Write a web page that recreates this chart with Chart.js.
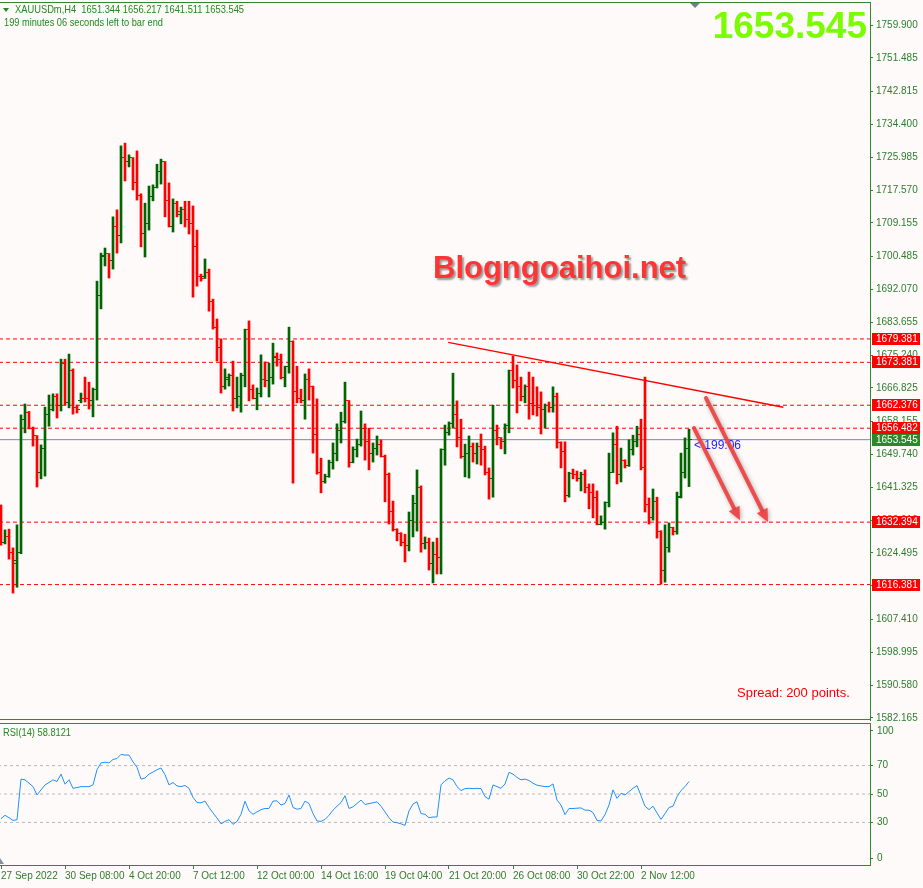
<!DOCTYPE html>
<html>
<head>
<meta charset="utf-8">
<script src="https://cdn.jsdelivr.net/npm/chart.js@4.4.0/dist/chart.umd.min.js"></script>
<style>
html, body { margin: 0; padding: 0; background: #fffafa; }
#wrap { position: relative; width: 923px; height: 888px; overflow: hidden; background: #fffafa; }
#main { position: absolute; left: 0; top: 0; }
#rsi { position: absolute; left: 0; top: 722px; }
</style>
</head>
<body>
<div id="wrap">
  <canvas id="main" width="923" height="722"></canvas>
  <canvas id="rsi" width="923" height="166"></canvas>
</div>
<script>
// XAUUSDm H4 bars (bar 0 = 27 Sep 2022)
const opens = [
  1636.0,1627.3,1628.8,1624.7,1622.5,1624.5,1658.8,1660.6,1656.5,1654.5,
  1645.0,1651.4,1659.9,1661.2,1664.5,1662.2,1673.2,1663.2,1671.4,1661.9,
  1663.5,1664.2,1664.0,1663.7,1666.3,1690.4,1700.6,1701.2,1699.6,1708.1,
  1705.8,1725.8,1724.8,1725.8,1719.4,1716.3,1706.3,1709.1,1716.0,1718.3,
  1722.2,1724.8,1715.0,1708.3,1714.2,1711.2,1712.5,1710.1,1709.1,1703.0,
  1695.5,1695.3,1696.5,1688.9,1682.4,1677.1,1667.1,1669.1,1670.1,1664.2,
  1664.7,1670.1,1681.7,1666.5,1664.0,1665.5,1669.1,1668.6,1669.6,1675.0,
  1674.0,1669.6,1672.2,1678.8,1665.8,1664.0,1663.5,1669.1,1667.1,1655.0,
  1645.0,1642.9,1644.0,1647.6,1650.1,1656.0,1658.1,1663.5,1647.8,1650.9,
  1652.4,1656.5,1653.0,1649.9,1651.4,1652.4,1649.3,1644.7,1635.2,1630.6,
  1629.6,1627.3,1626.3,1632.9,1637.3,1641.4,1627.0,1627.3,1621.7,1624.0,
  1623.2,1650.9,1655.3,1657.8,1660.1,1654.0,1649.3,1650.1,1651.9,1650.1,
  1651.7,1650.9,1645.2,1643.7,1656.0,1654.0,1653.0,1657.1,1671.2,1668.6,
  1667.3,1664.5,1667.3,1662.7,1662.4,1661.9,1661.2,1662.2,1661.9,1664.7,
  1652.7,1650.4,1639.3,1644.9,1644.7,1643.5,1644.5,1641.2,1640.1,1638.8,
  1631.9,1632.4,1637.5,1645.2,1652.2,1644.5,1648.3,1646.8,1650.9,1653.0,
  1655.0,1646.5,1636.8,1633.7,1637.8,1630.1,1619.9,1626.0,1630.9,1629.9,
  1639.1,1645.0,1651.344
];
const highs = [
  1636.8,1630.4,1630.6,1625.8,1631.7,1659.9,1662.7,1660.8,1656.8,1654.6,
  1652.2,1661.9,1665.0,1665.3,1665.3,1674.2,1674.2,1675.5,1671.7,1662.4,
  1665.5,1669.6,1668.3,1666.8,1694.2,1701.4,1702.7,1701.3,1710.7,1712.5,
  1728.9,1729.6,1726.6,1725.9,1727.6,1716.6,1714.2,1718.6,1718.9,1724.2,
  1725.5,1724.9,1719.4,1715.3,1714.7,1713.2,1714.7,1714.7,1713.5,1707.3,
  1696.0,1699.9,1697.3,1689.6,1684.5,1679.4,1671.7,1670.4,1673.7,1669.6,
  1670.6,1681.9,1684.0,1667.6,1666.8,1675.3,1673.5,1673.2,1678.3,1675.8,
  1675.5,1672.4,1682.4,1678.9,1672.4,1666.5,1670.4,1671.7,1667.3,1664.0,
  1648.8,1644.7,1648.3,1652.7,1657.6,1660.6,1668.3,1663.6,1651.7,1653.7,
  1660.9,1657.6,1656.5,1652.7,1654.5,1653.5,1649.6,1645.0,1637.8,1630.7,
  1629.7,1629.3,1635.0,1639.3,1645.8,1641.7,1628.6,1628.3,1627.3,1628.3,
  1651.2,1657.3,1658.1,1670.6,1663.5,1658.8,1652.4,1654.5,1652.7,1652.7,
  1655.0,1651.9,1646.3,1662.4,1657.3,1654.1,1657.6,1671.4,1675.0,1672.7,
  1669.6,1667.6,1670.9,1669.6,1667.1,1665.8,1662.7,1663.2,1667.1,1665.5,
  1653.0,1653.0,1645.2,1646.0,1645.5,1645.2,1645.8,1642.2,1642.2,1640.4,
  1634.0,1637.6,1650.1,1655.3,1657.0,1651.4,1648.4,1653.5,1654.7,1657.0,
  1658.8,1669.6,1638.6,1640.9,1638.8,1630.2,1631.7,1632.2,1631.1,1640.1,
  1650.1,1654.0,1656.217
];
const lows = [
  1626.5,1626.8,1622.9,1614.2,1615.7,1624.3,1655.3,1656.3,1651.9,1641.4,
  1643.5,1644.2,1657.0,1660.9,1659.1,1660.9,1662.4,1661.7,1660.1,1660.4,
  1663.0,1663.2,1661.4,1659.4,1663.7,1687.1,1698.1,1695.0,1697.3,1701.4,
  1704.0,1719.9,1723.5,1717.6,1715.0,1703.0,1700.4,1707.3,1714.8,1718.1,
  1719.1,1710.7,1708.1,1706.8,1710.7,1708.9,1708.1,1706.3,1690.1,1692.9,
  1694.2,1694.9,1686.5,1681.9,1673.7,1665.5,1666.5,1667.3,1660.9,1661.7,
  1660.6,1667.1,1663.5,1664.0,1661.2,1664.5,1667.1,1664.5,1667.8,1672.4,
  1669.1,1667.1,1670.6,1642.4,1663.0,1663.0,1658.8,1663.7,1650.1,1644.7,
  1639.9,1642.4,1643.9,1646.0,1648.1,1652.7,1657.8,1646.5,1647.6,1649.1,
  1651.9,1648.3,1645.8,1647.8,1649.6,1649.1,1637.6,1631.9,1630.1,1627.6,
  1626.3,1622.2,1625.0,1628.6,1630.1,1624.7,1625.5,1620.1,1616.8,1619.1,
  1619.1,1647.0,1654.7,1656.5,1651.7,1648.8,1644.0,1643.7,1647.8,1647.3,
  1647.0,1644.5,1638.3,1638.8,1652.2,1651.2,1649.9,1655.3,1666.8,1660.4,
  1663.5,1663.0,1658.8,1659.9,1659.6,1655.0,1656.5,1660.6,1660.6,1651.4,
  1646.3,1637.6,1638.8,1643.5,1642.9,1640.4,1639.9,1635.8,1633.5,1631.7,
  1631.7,1630.6,1636.3,1645.1,1642.2,1642.7,1646.3,1646.7,1649.6,1651.7,
  1645.8,1635.0,1631.9,1632.9,1628.3,1616.5,1617.0,1624.7,1629.1,1629.3,
  1638.6,1643.7,1641.511
];
const closes = [
  1627.3,1628.8,1624.7,1621.9,1624.5,1658.8,1660.6,1656.5,1654.5,1645.0,
  1651.4,1659.9,1661.2,1664.5,1662.2,1673.2,1663.2,1671.4,1661.9,1661.2,
  1664.2,1664.0,1663.7,1666.3,1690.4,1700.9,1701.2,1699.6,1708.1,1705.8,
  1725.8,1724.8,1725.8,1719.4,1716.3,1706.3,1709.1,1716.0,1718.3,1722.2,
  1724.8,1715.0,1708.3,1714.2,1712.0,1712.5,1710.1,1709.1,1703.0,1695.5,
  1694.8,1696.5,1688.9,1682.4,1677.1,1667.1,1669.4,1670.1,1664.2,1664.7,
  1670.1,1681.7,1666.5,1664.2,1665.5,1669.1,1668.6,1669.6,1674.7,1674.0,
  1669.6,1672.2,1678.8,1665.8,1664.0,1663.5,1669.1,1667.1,1655.0,1645.0,
  1642.9,1644.0,1647.6,1650.1,1656.0,1658.1,1663.5,1647.8,1650.9,1652.4,
  1656.5,1653.0,1649.9,1651.4,1652.4,1649.3,1644.7,1635.2,1630.6,1629.6,
  1627.3,1626.5,1632.9,1637.3,1641.4,1627.0,1627.3,1621.7,1624.0,1623.2,
  1650.9,1655.3,1657.8,1660.1,1654.0,1649.3,1650.1,1651.9,1650.1,1651.7,
  1650.9,1645.2,1643.7,1656.0,1654.0,1653.0,1657.1,1671.2,1668.6,1667.3,
  1664.7,1667.3,1662.7,1662.4,1661.9,1661.2,1662.2,1661.9,1664.7,1652.7,
  1650.4,1639.3,1644.9,1644.7,1643.5,1644.5,1641.2,1640.1,1638.8,1631.9,
  1632.4,1637.5,1645.2,1652.2,1644.5,1648.3,1646.8,1650.9,1653.0,1655.0,
  1646.5,1636.8,1633.7,1637.8,1630.1,1619.9,1626.0,1630.9,1629.9,1638.8,
  1645.2,1651.4,1653.545
];
// RSI(14) per bar
const rsiValues = [
  32.6,35.0,33.3,31.4,31.9,60.5,60.0,57.6,55.2,49.3,
  52.9,56.4,58.1,60.0,58.8,64.0,56.9,60.0,54.0,54.5,
  55.2,55.2,55.2,56.4,67.1,71.9,72.4,71.9,74.3,75.0,
  77.9,77.4,77.4,72.6,68.8,60.5,61.2,64.0,65.5,67.1,
  68.3,63.6,56.4,58.1,55.7,55.2,56.0,54.0,47.6,44.0,
  43.8,45.0,40.5,36.7,33.1,29.0,30.7,31.9,28.6,30.7,
  35.7,45.0,38.1,35.7,37.4,39.0,39.8,39.8,45.0,45.2,
  42.2,43.3,49.3,40.5,39.3,39.8,45.0,43.3,36.2,31.0,
  30.7,32.1,35.0,38.6,41.4,44.0,48.8,39.8,41.0,43.3,
  45.7,42.6,43.3,43.8,44.5,41.4,37.4,33.3,30.2,29.8,
  29.0,27.9,38.1,42.9,44.5,36.2,35.7,33.3,33.8,33.8,
  56.4,59.3,61.2,60.0,55.2,52.4,53.8,54.0,53.8,54.0,
  53.8,48.1,46.4,56.4,55.2,54.0,57.1,65.2,64.0,61.7,
  60.0,60.5,59.5,57.6,56.2,55.7,55.2,55.2,57.1,45.7,
  42.2,35.5,39.8,39.8,40.0,40.2,38.6,38.6,36.9,31.4,
  31.0,35.5,42.2,52.9,46.9,50.5,49.3,51.7,54.0,55.9,
  48.8,41.4,39.0,41.4,36.7,32.1,36.2,40.5,41.4,48.1,
  52.4,55.2,58.8
];

const priceTicks = [1759.900, 1751.485, 1742.815, 1734.400, 1725.985, 1717.570, 1709.155,
  1700.485, 1692.070, 1683.655, 1675.240, 1666.825, 1658.155, 1649.740, 1641.325,
  1632.910, 1624.495, 1616.080, 1607.410, 1598.995, 1590.580, 1582.165];
const dateTickIdx = [0, 16, 32, 48, 64, 80, 96, 112, 128, 144, 160];
const dateLabels = ['27 Sep 2022', '30 Sep 08:00', '4 Oct 20:00', '7 Oct 12:00', '12 Oct 00:00',
  '14 Oct 16:00', '19 Oct 04:00', '21 Oct 20:00', '26 Oct 08:00', '30 Oct 22:00', '2 Nov 12:00'];
const rsiLevels = [30, 50, 70];
const rsiTickPos = [4.9, 30, 50, 70, 94.4];
const rsiTickText = ['0', '30', '50', '70', '100'];

const levelPrices = [1679.381, 1673.381, 1662.376, 1656.482, 1632.394, 1616.381];
const lastPrice = 1653.545;
const trendX = [111.8, 195.6];
const trendY = [1678.5, 1661.85];
const arrowFrom = [[173.25, 1656.5], [176.25, 1664.2]];
const arrowTo = [[184.75, 1632.9], [191.75, 1632.4]];

const X_MIN = -0.25, X_MAX = 217.25;
const Y_MIN = 1581.65, Y_MAX = 1765.8;

const BULL = '#006400', BEAR = '#ff0000';
const FRAME = '#2f8a2f', AXIS_TXT = '#2d7d2d';

Chart.defaults.font.family = '"Liberation Sans", Arial, sans-serif';
Chart.defaults.font.size = 10;
Chart.defaults.color = AXIS_TXT;

function hLine(v, color, dash) {
  return {
    type: 'line', data: [{x: X_MIN - 2, y: v}, {x: X_MAX + 2, y: v}],
    borderColor: color, borderWidth: 1, borderDash: dash, pointRadius: 0, order: 2
  };
}

function drawArrow(ctx, x1, y1, x2, y2) {
  const ang = Math.atan2(y2 - y1, x2 - x1);
  const head = 13, hw = 6;
  const bx = x2 - head * Math.cos(ang), by = y2 - head * Math.sin(ang);
  ctx.save();
  ctx.shadowColor = 'rgba(0,0,0,0.35)';
  ctx.shadowBlur = 4;
  ctx.shadowOffsetX = 1;
  ctx.shadowOffsetY = 1;
  ctx.strokeStyle = 'rgba(240,62,62,0.9)';
  ctx.fillStyle = 'rgba(240,62,62,0.9)';
  ctx.lineWidth = 4;
  ctx.lineCap = 'round';
  ctx.beginPath();
  ctx.moveTo(x1, y1);
  ctx.lineTo(bx, by);
  ctx.stroke();
  ctx.beginPath();
  ctx.moveTo(x2, y2);
  ctx.lineTo(bx + hw * Math.sin(ang), by - hw * Math.cos(ang));
  ctx.lineTo(bx - hw * Math.sin(ang), by + hw * Math.cos(ang));
  ctx.closePath();
  ctx.fill();
  ctx.restore();
}

const mainOverlay = {
  id: 'mainOverlay',
  afterDatasetsDraw(chart) {
    const {ctx, scales: {x, y}} = chart;
    ctx.save();
    // open tick left, close tick right
    for (let i = 0; i < opens.length; i++) {
      const px = Math.round(x.getPixelForValue(i));
      ctx.fillStyle = closes[i] >= opens[i] ? BULL : BEAR;
      ctx.fillRect(px - 3, Math.floor(y.getPixelForValue(opens[i])), 2, 1);
      ctx.fillRect(px + 1, Math.floor(y.getPixelForValue(closes[i])), 2, 1);
    }
    ctx.restore();
  },
  afterDraw(chart) {
    const {ctx, chartArea: a, scales: {x, y}} = chart;
    ctx.save();
    // frame
    ctx.strokeStyle = FRAME;
    ctx.lineWidth = 1;
    ctx.beginPath();
    ctx.moveTo(0, a.top + 0.5); ctx.lineTo(a.right, a.top + 0.5);
    ctx.moveTo(0, a.bottom - 0.5); ctx.lineTo(a.right, a.bottom - 0.5);
    ctx.stroke();

    // price boxes on the axis
    ctx.font = '10px "Liberation Sans", Arial, sans-serif';
    ctx.textBaseline = 'middle';
    ctx.textAlign = 'left';
    const box = (v, bg) => {
      const py = Math.round(y.getPixelForValue(v));
      ctx.fillStyle = bg;
      ctx.fillRect(a.right + 2, py - 6, 48, 12);
      ctx.fillStyle = '#ffffff';
      ctx.fillText(v.toFixed(3), a.right + 6, py + 0.5);
    };
    levelPrices.forEach(v => box(v, '#ff0000'));
    box(lastPrice, '#2a8a2a');

    // header
    ctx.fillStyle = '#1f8a1f';
    ctx.beginPath();
    ctx.moveTo(3, 8); ctx.lineTo(9, 8); ctx.lineTo(6, 12); ctx.closePath();
    ctx.fill();
    ctx.font = '11px "Liberation Sans", Arial, sans-serif';
    ctx.fillText('XAUUSDm,H4  1651.344 1656.217 1641.511 1653.545', 15, 10, 229);
    ctx.fillText('199 minutes 06 seconds left to bar end', 4, 23, 159);

    // shift marker
    ctx.fillStyle = '#708090';
    ctx.beginPath();
    ctx.moveTo(690, 3); ctx.lineTo(700, 3); ctx.lineTo(695, 8); ctx.closePath();
    ctx.fill();

    // big price
    ctx.fillStyle = '#7cfc00';
    ctx.font = 'bold 37px "Liberation Sans", Arial, sans-serif';
    ctx.textAlign = 'right';
    ctx.textBaseline = 'alphabetic';
    ctx.fillText('1653.545', 867, 38);

    // watermark
    ctx.save();
    ctx.shadowColor = 'rgba(0,0,0,0.4)';
    ctx.shadowBlur = 2;
    ctx.shadowOffsetX = 2;
    ctx.shadowOffsetY = 2;
    ctx.fillStyle = '#ff3535';
    ctx.font = 'bold 31px "Liberation Sans", Arial, sans-serif';
    ctx.textAlign = 'left';
    ctx.textBaseline = 'middle';
    ctx.fillText('Blogngoaihoi.net', 433, 269);
    ctx.restore();

    // spread
    ctx.fillStyle = '#ff0000';
    ctx.font = '13px "Liberation Sans", Arial, sans-serif';
    ctx.textAlign = 'left';
    ctx.textBaseline = 'middle';
    ctx.fillText('Spread: 200 points.', 737, 693);

    // bar timer
    ctx.fillStyle = '#2424ff';
    ctx.font = '12px "Liberation Sans", Arial, sans-serif';
    ctx.fillText('< 199:06', x.getPixelForValue(173.25), y.getPixelForValue(1651.9));

    // arrows
    for (let k = 0; k < arrowFrom.length; k++) {
      drawArrow(ctx,
        x.getPixelForValue(arrowFrom[k][0]), y.getPixelForValue(arrowFrom[k][1]),
        x.getPixelForValue(arrowTo[k][0]), y.getPixelForValue(arrowTo[k][1]));
    }
    ctx.restore();
  }
};

const hlData = highs.map((h, i) => ({x: i, y: [lows[i], h]}));
const barColors = closes.map((c, i) => c >= opens[i] ? BULL : BEAR);

new Chart(document.getElementById('main'), {
  type: 'bar',
  data: {
    datasets: [
      {type: 'bar', data: hlData, backgroundColor: barColors, barThickness: 2, borderWidth: 0, grouped: false, order: 0},
      ...levelPrices.map(v => hLine(v, '#ff0000', [4, 3])),
      hLine(lastPrice, '#7a8a99', []),
      {type: 'line', data: trendX.map((v, i) => ({x: v, y: trendY[i]})), borderColor: '#ff0000',
        borderWidth: 1.5, pointRadius: 0, order: 1}
    ]
  },
  options: {
    responsive: false,
    animation: false,
    events: [],
    layout: {padding: {top: 2, bottom: 2, left: 0, right: 0}},
    plugins: {legend: {display: false}, tooltip: {enabled: false}},
    scales: {
      x: {type: 'linear', min: X_MIN, max: X_MAX, display: false, offset: false, grid: {offset: false}},
      y: {
        position: 'right', min: Y_MIN, max: Y_MAX,
        afterBuildTicks: s => { s.ticks = priceTicks.map(v => ({value: v})); },
        afterFit: s => { s.width = 53; s.paddingTop = 0; s.paddingBottom = 0; },
        ticks: {callback: v => Number(v).toFixed(3), autoSkip: false, padding: 3, color: AXIS_TXT},
        grid: {drawOnChartArea: false, drawTicks: true, tickLength: 3, color: FRAME},
        border: {display: true, color: FRAME}
      }
    }
  },
  plugins: [mainOverlay]
});

const rsiOverlay = {
  id: 'rsiOverlay',
  afterDraw(chart) {
    const {ctx, chartArea: a} = chart;
    ctx.save();
    ctx.strokeStyle = FRAME;
    ctx.lineWidth = 1;
    ctx.beginPath();
    ctx.moveTo(0, a.top + 0.5); ctx.lineTo(a.right, a.top + 0.5);
    ctx.stroke();
    ctx.fillStyle = '#1f8a1f';
    ctx.font = '10px "Liberation Sans", Arial, sans-serif';
    ctx.textBaseline = 'middle';
    ctx.fillText('RSI(14) 58.8121', 3, 11, 68);
    ctx.fillStyle = '#8090a0';
    ctx.beginPath();
    ctx.moveTo(0, a.bottom - 1); ctx.lineTo(0, a.bottom - 7); ctx.lineTo(4, a.bottom - 1); ctx.closePath();
    ctx.fill();
    ctx.restore();
  }
};

new Chart(document.getElementById('rsi'), {
  type: 'line',
  data: {
    datasets: [
      ...rsiLevels.map(v => ({
        data: [{x: X_MIN - 2, y: v}, {x: X_MAX + 2, y: v}], borderColor: '#b9b9b9',
        borderWidth: 1, borderDash: [3, 3], pointRadius: 0, order: 2
      })),
      {data: rsiValues.map((v, i) => ({x: i, y: v})), borderColor: '#1e90ff', borderWidth: 1,
        pointRadius: 0, tension: 0, order: 1}
    ]
  },
  options: {
    responsive: false,
    animation: false,
    events: [],
    layout: {padding: {top: 1, bottom: 0, left: 0, right: 0}},
    plugins: {legend: {display: false}, tooltip: {enabled: false}},
    scales: {
      x: {
        type: 'linear', min: X_MIN, max: X_MAX,
        afterBuildTicks: s => { s.ticks = dateTickIdx.map(v => ({value: v})); },
        afterFit: s => { s.height = 23; s.paddingLeft = 0; s.paddingRight = 0; },
        ticks: {
          callback: v => dateLabels[dateTickIdx.indexOf(v)],
          align: 'start', maxRotation: 0, autoSkip: false, padding: 1, color: AXIS_TXT
        },
        grid: {drawOnChartArea: false, drawTicks: true, tickLength: 4, color: FRAME},
        border: {display: true, color: FRAME}
      },
      y: {
        position: 'right', min: 0, max: 100,
        afterBuildTicks: s => { s.ticks = rsiTickPos.map(v => ({value: v})); },
        afterFit: s => { s.width = 53; s.paddingTop = 0; s.paddingBottom = 0; },
        ticks: {callback: (v, i) => rsiTickText[i], autoSkip: false, padding: 4, color: AXIS_TXT},
        grid: {drawOnChartArea: false, drawTicks: true, tickLength: 3, color: FRAME},
        border: {display: true, color: FRAME}
      }
    }
  },
  plugins: [rsiOverlay]
});
</script>
</body>
</html>
